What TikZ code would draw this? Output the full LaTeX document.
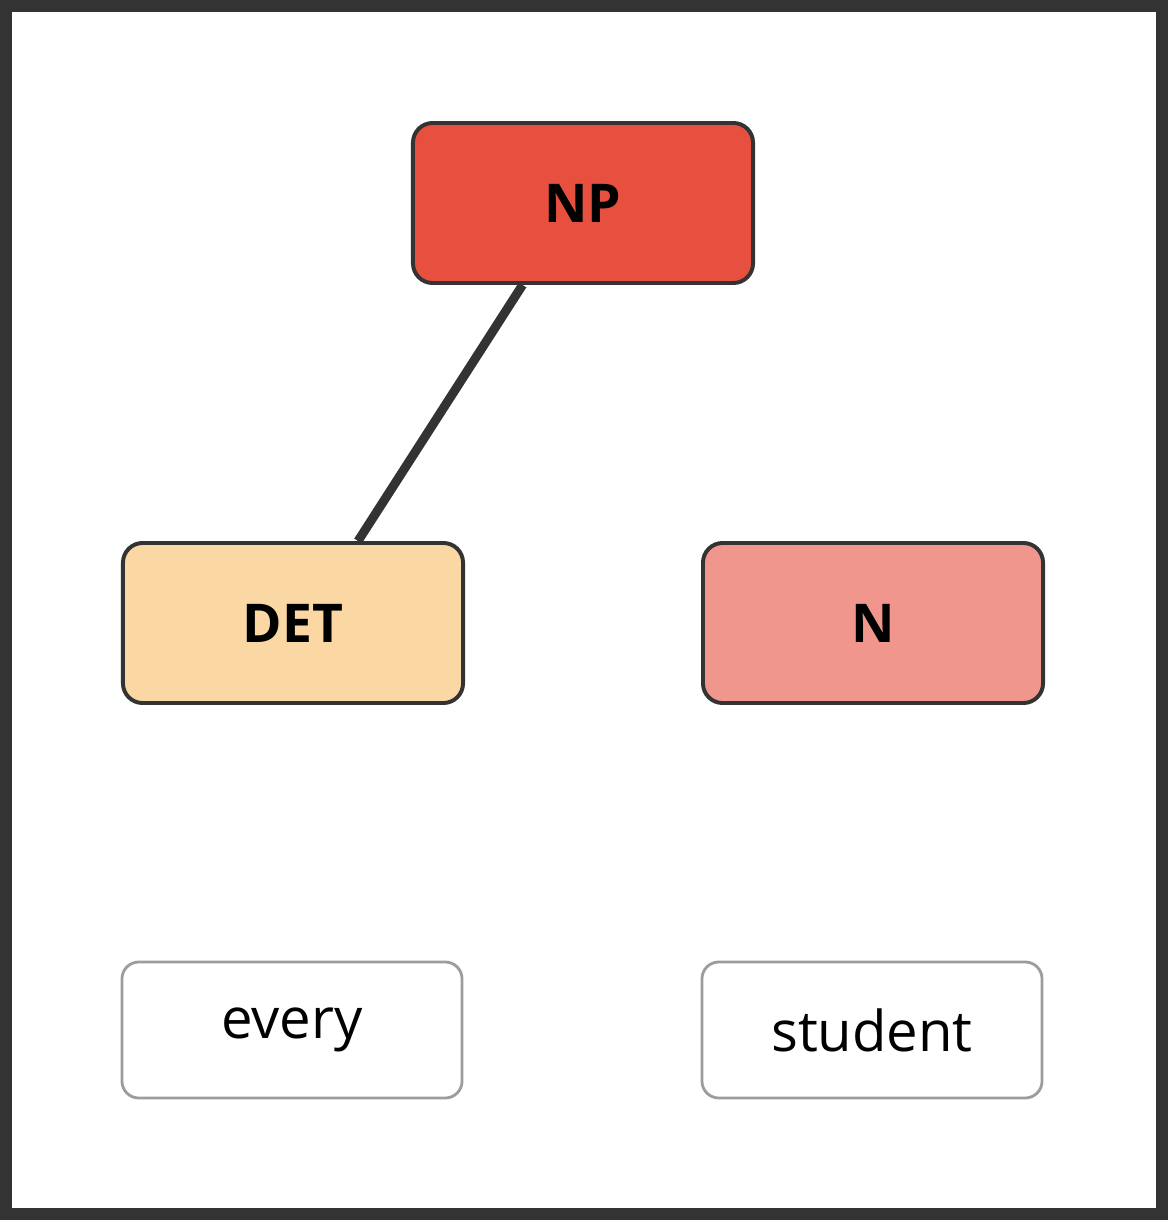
\documentclass[tikz,border=0pt]{standalone}
\usepackage{fontspec}
\setmainfont{Open Sans}
\usepackage{tikz}

\definecolor{frame}{HTML}{333333}
\definecolor{npred}{HTML}{E74F3F}
\definecolor{detfill}{HTML}{FAD7A3}
\definecolor{nfill}{HTML}{F1968C}
\definecolor{leafline}{HTML}{9C9C9C}

\begin{document}
\begin{tikzpicture}[x=0.025cm,y=-0.025cm]
\tikzstyle{cat}=[draw=frame,line width=2.8pt,rounded corners=14pt,minimum width=8.5cm,minimum height=4cm,font=\fontsize{38}{46}\selectfont\bfseries]
\tikzstyle{leaf}=[draw=leafline,fill=white,line width=2pt,rounded corners=12pt,minimum width=8.5cm,minimum height=3.4cm,font=\fontsize{40}{48}\selectfont]
\tikzstyle{branch}=[draw=frame,line width=6.4pt]
\fill [white] (0,0) rectangle (1168,1220);
\draw [frame,line width=8.5pt] (6,6) rectangle (1162,1214);
\node [cat,fill=npred] (NP) at (583,203) {NP};
\node [cat,fill=detfill] (DET) at (293,623) {DET};
\node [cat,fill=nfill] (N) at (873,623) {N};
\node [leaf] (every) at (292,1030) {every};
\node [leaf] (student) at (872,1030) {student};
\begin{scope}[on background layer/.style={}]
\draw [branch] ([xshift=-43\pgflinewidth/6.4]NP.south) -- (DET.north -| 358,0);
\end{scope}
\end{tikzpicture}
\end{document}
